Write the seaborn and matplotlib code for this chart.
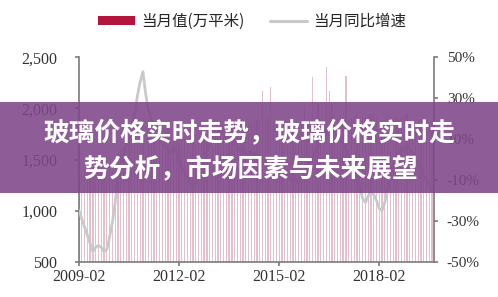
import numpy as np
import pandas as pd
import matplotlib
matplotlib.use("Agg")
import matplotlib.pyplot as plt
import seaborn as sns
from matplotlib.patches import Rectangle, Patch
from matplotlib.lines import Line2D

# Monthly series, 2009-02 .. 2019-09
months = pd.period_range("2009-02", periods=128, freq="M").strftime("%Y-%m").tolist()

# 当月值 (万平米)
volume = [
    1320, 1360, 1390, 1410, 1430, 1420, 1450, 1440, 1470, 1490, 1500, 1460,
    1380, 1520, 1560, 1590, 1610, 1630, 1650, 1660, 1690, 1700, 1720, 1680,
    1580, 1710, 1740, 1760, 1780, 1770, 1790, 1780, 1800, 1790, 1810, 1760,
    1640, 1720, 1700, 1690, 1680, 1660, 1650, 1670, 1690, 1700, 1720, 1700,
    1620, 1760, 1790, 1810, 1830, 1820, 1840, 1830, 1850, 1860, 1870, 1830,
    1700, 1850, 1880, 1890, 1900, 1880, 2170, 1890, 1910, 2206, 1900, 1870,
    1720, 1830, 1850, 1840, 1860, 1850, 1830, 1840, 1860, 2010, 1880, 1850,
    2304, 1820, 2040, 1860, 1880, 2402, 2167, 2040, 1900, 1920, 1930, 1900,
    2314, 1880, 1910, 1930, 1940, 1920, 1930, 1910, 1940, 1950, 1960, 1920,
    1760, 1880, 1900, 1920, 1930, 1910, 1920, 1900, 1930, 1940, 1950, 1910,
    1750, 1870, 1890, 1900, 1910, 1890, 1880, 1870,
]

# 当月同比增速 (%)
growth = [
    -25, -29, -33, -37, -41, -45, -43, -42, -43, -45, -44, -38,
    -31, -21, -10, -2, 3, 7, 10, 15, 22, 31, 38, 43,
    32, 24, 20, 16, 12, 10, 8, 6, 5, 3, 6, 4,
    0, -4, -6, -9, -11, -13, -12, -8, -3, 0, 4, 7,
    11, 14, 12, 15, 13, 10, 12, 8, 9, 6, 4, 5,
    3, 2, 4, 1, 3, 0, -2, -1, -3, -5, -6, -7,
    -8, -6, -9, -7, -10, -11, -10, -12, -9, -6, -3, -1,
    1, 4, 7, 9, 11, 14, 12, 15, 13, 11, 9, 7,
    5, 2, -1, -4, -8, -13, -19, -21, -18, -16, -17, -20,
    -24, -25, -21, -14, -8, -3, 1, 3, 6, 4, 7, 5,
    3, 0, -2, -5, -8, -10, -13, -16,
]

xtick_pos = [0, 36, 72, 108]
left_ticks = [500, 1000, 1500, 2000, 2500]
right_ticks = [-50, -30, -10, 10, 30, 50]

title_lines = ["玻璃价格实时走势，玻璃价格实时走", "势分析，市场因素与未来展望"]

sns.set_style("ticks")
plt.rcParams["font.family"] = ["Liberation Serif", "DejaVu Serif"]
plt.rcParams["axes.unicode_minus"] = False

bar_color = "#e4bfcd"
legend_bar = "#b3153d"
line_color = "#c9c9c9"
spine_color = "#7a7a7a"
label_color = "#333333"
cjk = ["Noto Sans CJK SC", "DejaVu Sans"]

fig = plt.figure(figsize=(4.98, 2.97), dpi=100)
ax = fig.add_axes([0.1586, 0.1189, 0.7135, 0.688])

df = pd.DataFrame({"month": months, "volume": volume, "growth": growth})
sns.barplot(data=df, x="month", y="volume", color=bar_color, saturation=1,
            width=0.45, ax=ax, linewidth=0)

ax2 = ax.twinx()
sns.lineplot(x=np.arange(len(growth)), y=growth, ax=ax2, color=line_color,
             linewidth=2.0)

ax.set_xlim(0, 127.8)
ax.set_ylim(500, 2500)
ax2.set_ylim(-50, 50)

ax.set_xticks(xtick_pos)
ax.set_xticklabels([months[i] for i in xtick_pos])
ax.set_yticks(left_ticks)
ax.set_yticklabels([f"{v:,}" for v in left_ticks])
ax2.set_yticks(right_ticks)
ax2.set_yticklabels([f"{v}%" for v in right_ticks])
ax.set_xlabel("")
ax.set_ylabel("")
ax2.set_ylabel("")

for a in (ax, ax2):
    a.spines["top"].set_visible(False)
    for s in ("left", "right", "bottom"):
        a.spines[s].set_color(spine_color)
        a.spines[s].set_linewidth(1.2)
ax.spines["right"].set_visible(False)
ax2.spines["left"].set_visible(False)
ax2.spines["bottom"].set_visible(False)

ax.tick_params(axis="y", length=3, width=1.2, color=spine_color, pad=12.5,
               labelsize=11.5, labelcolor=label_color)
ax.tick_params(axis="x", length=3, width=1.2, color=spine_color, pad=2.5,
               labelsize=11.5, labelcolor=label_color)
ax2.tick_params(axis="y", length=3, width=1.2, color=spine_color, pad=6,
                labelsize=11, labelcolor=label_color)

handles = [Patch(facecolor=legend_bar, edgecolor="none"),
           Line2D([0], [0], color=line_color, linewidth=2.2)]
fig.legend(handles, ["当月值(万平米)", "当月同比增速"], loc="center",
           bbox_to_anchor=(0.506, 0.927), ncol=2, frameon=False,
           prop={"family": cjk, "size": 11.2}, handlelength=2.4,
           handleheight=0.45, handletextpad=0.4, columnspacing=1.6)

# Title banner across the middle of the figure
banner = Rectangle((0, 0.350), 1, 0.306, transform=fig.transFigure,
                   facecolor="#7f4689", alpha=0.88, edgecolor="none", zorder=5)
fig.patches.append(banner)
fig.text(0.5, 0.5545, title_lines[0], ha="center", va="center", color="white",
         fontsize=18.5, fontweight="bold", family=cjk, zorder=6)
fig.text(0.502, 0.4333, title_lines[1], ha="center", va="center", color="white",
         fontsize=18.5, fontweight="bold", family=cjk, zorder=6)

fig.savefig("out.png", dpi=100)
